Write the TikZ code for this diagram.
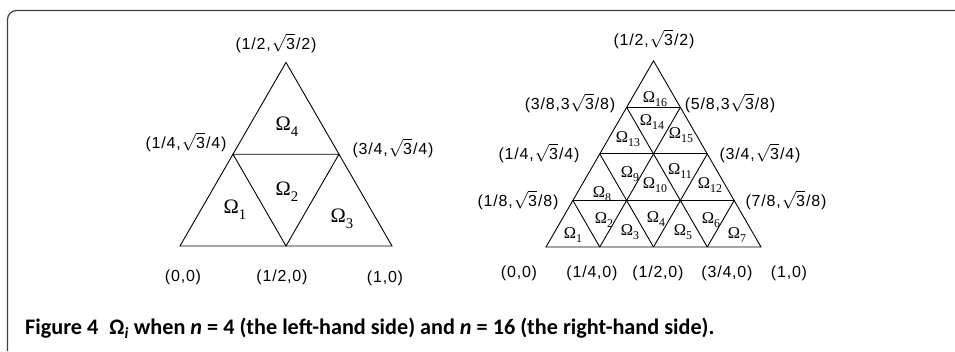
\documentclass[tikz,border=0pt]{standalone}
\usepackage{fontspec}
\usepackage{graphicx}
\newfontfamily\coordfont{Liberation Sans}[LetterSpace=5]
\newfontfamily\omfont{Liberation Serif}
\newfontfamily\capfont{Carlito}
\usepackage{tikz}
\usetikzlibrary{calc}
\newcommand{\sqthree}{\kern1pt$\sqrt{\mbox{3}}$\kern1pt}
\newcommand{\omlabel}[1]{Ω\raisebox{-0.28em}{\scalebox{0.72}{#1}}}

\begin{document}
\begin{tikzpicture}[
    x=1pt, y=-1pt,
    edge/.style={line width=0.9pt},
    frameline/.style={line width=1.2pt, draw=black!75, rounded corners=9pt},
    coord/.style={font=\coordfont\fontsize{16}{19}\selectfont, inner sep=0pt},
    bigomega/.style={font=\omfont\fontsize{20.5}{23}\selectfont, inner sep=0pt},
    smallomega/.style={font=\omfont\fontsize{16.5}{18}\selectfont, inner sep=0pt},
    caption/.style={font=\capfont\bfseries\fontsize{22.2}{25}\selectfont, anchor=west, inner sep=0pt}
]
    \useasboundingbox (0,0) rectangle (955,351);
    \draw[frameline] (7.5,351) -- (7.5,10.5) -- (955,10.5);

    % n = 4
    \begin{scope}[shift={(180pt,-246pt)}, x={(106pt,0pt)}, y={(53pt,91.8pt)}]
        \coordinate (l00) at (0,0);
        \coordinate (l20) at (2,0);
        \coordinate (l02) at (0,2);
        \coordinate (l10) at (1,0);
        \coordinate (l01) at (0,1);
        \coordinate (l11) at (1,1);
        \draw[edge] (l00) -- (l20) -- (l02) -- cycle;
        \draw[edge] (l01) -- (l11) -- (l10) -- cycle;
    \end{scope}

    \node[bigomega] (lo1) at (235,210) {\omlabel{1}};
    \node[bigomega] (lo2) at (287,192) {\omlabel{2}};
    \node[bigomega] (lo3) at (342,219) {\omlabel{3}};
    \node[bigomega] (lo4) at (287,127) {\omlabel{4}};

    \node[coord] (lc1) at (276,43) {(1/2,\sqthree/2)};
    \node[coord] (lc2) at (186,142) {(1/4,\sqthree/4)};
    \node[coord] (lc3) at (393,148) {(3/4,\sqthree/4)};
    \node[coord] (lc4) at (183,277) {(0,0)};
    \node[coord] (lc5) at (282,277) {(1/2,0)};
    \node[coord] (lc6) at (385,278) {(1,0)};

    % n = 16
    \begin{scope}[shift={(546pt,-247pt)}, x={(53.75pt,0pt)}, y={(26.875pt,46.55pt)}]
        \coordinate (r00) at (0,0);
        \coordinate (r40) at (4,0);
        \coordinate (r04) at (0,4);
        \draw[edge] (r00) -- (r40) -- (r04) -- cycle;
        \foreach \k in {1,2,3} {
            \draw[edge] (0,\k) -- (4-\k,\k);
            \draw[edge] (\k,0) -- (0,\k);
            \draw[edge] (\k,0) -- (\k,4-\k);
        }
    \end{scope}

    \foreach \px/\py/\i in {573/235/1, 604/220/2, 630/232/3, 656/219/4, 683/232/5, 711/220/6, 737/235/7,
                            602/194/8, 630/174/9, 655/185/10, 680/171/11, 710/185/12,
                            628/139/13, 652/122/14, 681/135/15, 655/99/16}
        \node[smallomega] (ro\i) at (\px,\py) {\omlabel{\i}};

    \node[coord] (rc1) at (654,39) {(1/2,\sqthree/2)};
    \node[coord] (rc2) at (570,103) {(3/8,3\sqthree/8)};
    \node[coord] (rc3) at (730,103) {(5/8,3\sqthree/8)};
    \node[coord] (rc4) at (539,153) {(1/4,\sqthree/4)};
    \node[coord] (rc5) at (760,153) {(3/4,\sqthree/4)};
    \node[coord] (rc6) at (518,200) {(1/8,\sqthree/8)};
    \node[coord] (rc7) at (786,200) {(7/8,\sqthree/8)};
    \node[coord] (rc8) at (519,273) {(0,0)};
    \node[coord] (rc9) at (592,273) {(1/4,0)};
    \node[coord] (rc10) at (658,273) {(1/2,0)};
    \node[coord] (rc11) at (727,273) {(3/4,0)};
    \node[coord] (rc12) at (789,273) {(1,0)};

    \node[caption] (cap) at (25,328) {Figure 4\enspace Ω\textsubscript{\itshape i} when \textit{n} = 4 (the left-hand side) and \textit{n} = 16 (the right-hand side).};
\end{tikzpicture}
\end{document}
